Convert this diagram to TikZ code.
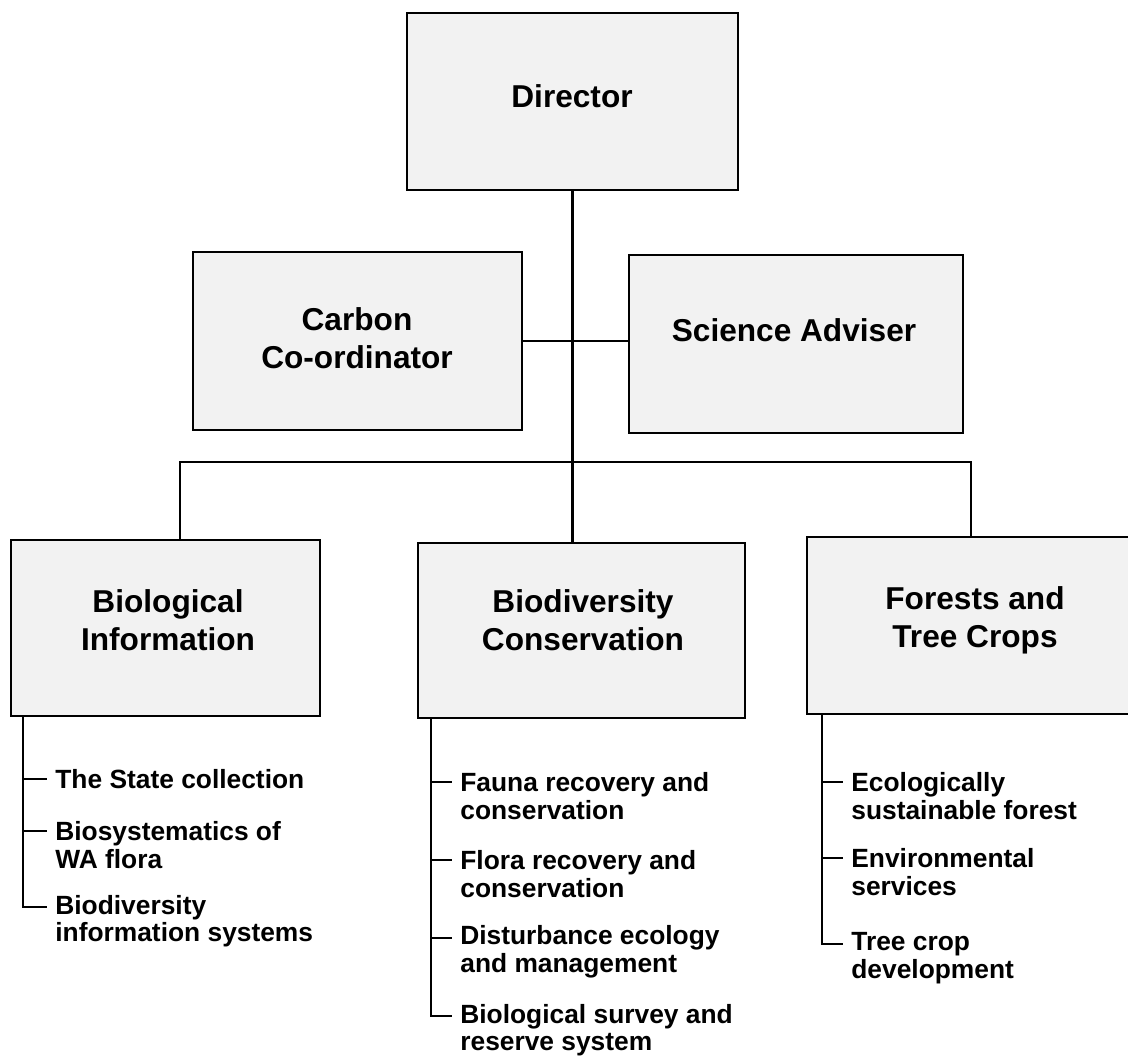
\documentclass[tikz,border=0pt]{standalone}
\usepackage{fontspec}
\setmainfont{Liberation Sans}

\tikzset{
  unit/.style={rectangle,draw,line width=1.3pt,fill=black!5,inner sep=0pt},
  title/.style={font=\fontsize{18}{21.5}\selectfont\bfseries,align=center},
  task/.style={anchor=west,inner xsep=0.16cm,inner ysep=0pt,font=\fontsize{15}{15.7}\selectfont\bfseries,align=left},
  link/.style={line width=1.2pt},
}

\begin{document}
\begin{tikzpicture}[x=0.02cm,y=-0.02cm]

    \useasboundingbox (0,0) rectangle (1128,1061);

    %%%%%%%%%%%%%%%%%%%%%%%%%%%%%%%%%%%%%%%%%%%%%%%%%%%%%%

    % director
    \node[unit,minimum width=6.62cm,minimum height=3.54cm] (dir) at (572.5,101.5) {};
    \node[title] (dirt) at (572,96) {Director};

    % advisers
    \node[unit,minimum width=6.58cm,minimum height=3.56cm] (carb) at (357.5,341) {};
    \node[title] (carbt) at (357,338) {Carbon\\Co-ordinator};
    \node[unit,minimum width=6.68cm,minimum height=3.56cm] (sci) at (796,344) {};
    \node[title] (scit) at (794,330) {Science Adviser};

    \draw[link] (carb.east) -- (carb.east -| sci.west);

    %%%%%%%%%%%%%%%%%%%%%%%%%%%%%%%%%%%%%%%%%%%%%%%%%%%%%%

    % divisions
    \node[unit,minimum width=6.18cm,minimum height=3.52cm] (binf) at (165.5,628) {};
    \node[title] (binft) at (168,620) {Biological\\Information};
    \node[unit,minimum width=6.54cm,minimum height=3.5cm] (bcon) at (581.5,630.5) {};
    \node[title] (bcont) at (583,620) {Biodiversity\\Conservation};
    \node[unit,minimum width=6.46cm,minimum height=3.54cm] (ftc) at (968.5,625.5) {};
    \node[title] (ftct) at (975,620) {Forests and\\Tree Crops};

    % bus
    \coordinate (bus) at (572.5,462);
    \draw[link] (dir.south) -- (bus);
    \draw[link] (bus) -- (bus |- bcon.north);
    \draw[link] ([xshift=0.29cm]binf.north) |- (bus) -| ([xshift=0.05cm]ftc.north);

    %%%%%%%%%%%%%%%%%%%%%%%%%%%%%%%%%%%%%%%%%%%%%%%%%%%%%%

    % biological information programs
    \coordinate (binfs) at ([xshift=0.26cm]binf.south west);
    \node[task] (bi1) at (47,779) {The State collection};
    \node[task] (bi2) at (47,845) {Biosystematics of\\WA flora};
    \node[task] (bi3) at (47,921) {Biodiversity\\information systems};
    \draw[link] (binfs) |- ([yshift=7.8pt]bi3.west);
    \draw[link] (binfs |- bi1.west) -- (bi1.west);
    \draw[link] ([yshift=7.8pt]bi2.west -| binfs) -- ([yshift=7.8pt]bi2.west);

    %%%%%%%%%%%%%%%%%%%%%%%%%%%%%%%%%%%%%%%%%%%%%%%%%%%%%%

    % biodiversity conservation programs
    \coordinate (bcons) at ([xshift=0.28cm]bcon.south west);
    \node[task] (bc1) at (452,796) {Fauna recovery and\\conservation};
    \node[task] (bc2) at (452,874) {Flora recovery and\\conservation};
    \node[task] (bc3) at (452,952) {Disturbance ecology\\and management};
    \node[task] (bc4) at (452,1030) {Biological survey and\\reserve system};
    \draw[link] (bcons) |- ([yshift=7.8pt]bc4.west);
    \draw[link] ([yshift=7.8pt]bc1.west -| bcons) -- ([yshift=7.8pt]bc1.west);
    \draw[link] ([yshift=7.8pt]bc2.west -| bcons) -- ([yshift=7.8pt]bc2.west);
    \draw[link] ([yshift=7.8pt]bc3.west -| bcons) -- ([yshift=7.8pt]bc3.west);

    %%%%%%%%%%%%%%%%%%%%%%%%%%%%%%%%%%%%%%%%%%%%%%%%%%%%%%

    % forests and tree crops programs
    \coordinate (ftcs) at ([xshift=0.32cm]ftc.south west);
    \node[task] (ft1) at (843,796) {Ecologically\\sustainable forest};
    \node[task] (ft2) at (843,872) {Environmental\\services};
    \node[task] (ft3) at (843,958) {Tree crop\\development};
    \draw[link] (ftcs) |- ([yshift=7.8pt]ft3.west);
    \draw[link] ([yshift=7.8pt]ft1.west -| ftcs) -- ([yshift=7.8pt]ft1.west);
    \draw[link] ([yshift=7.8pt]ft2.west -| ftcs) -- ([yshift=7.8pt]ft2.west);

\end{tikzpicture}
\end{document}
